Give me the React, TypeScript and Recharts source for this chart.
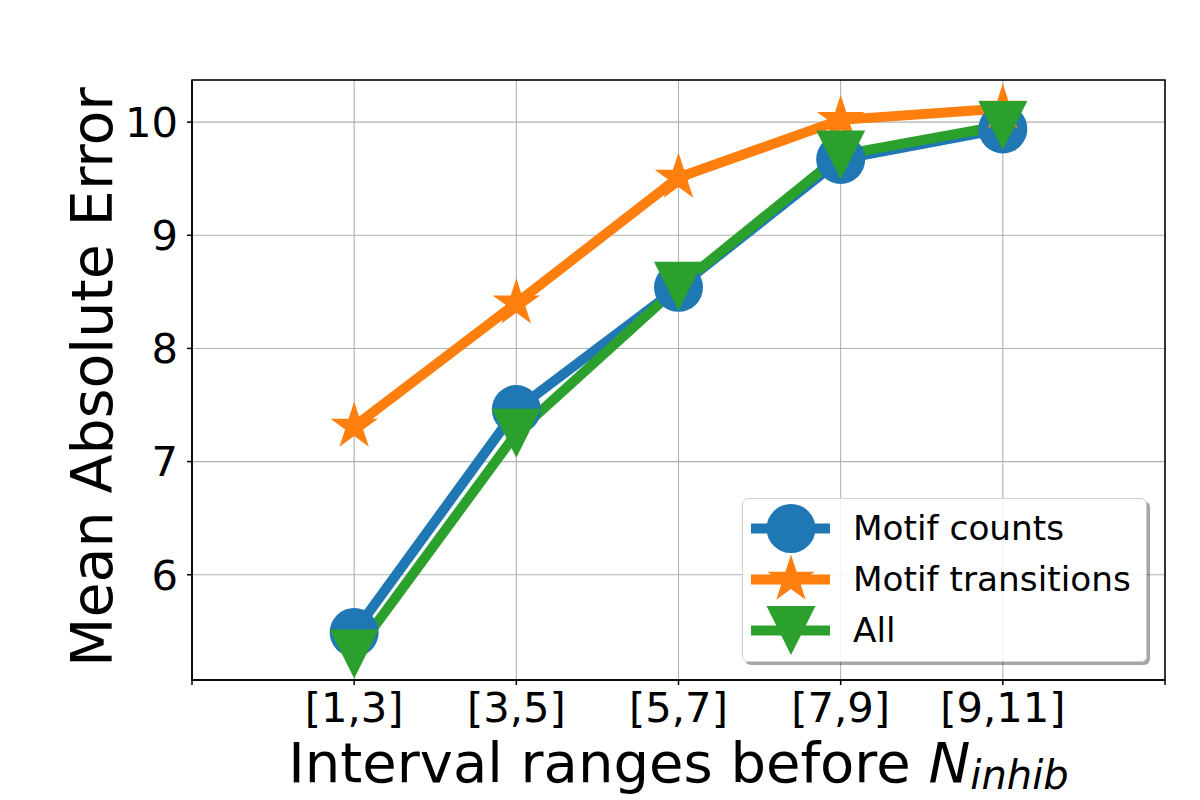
import React from "react";
import {
  CartesianGrid,
  Legend,
  Line,
  LineChart,
  ReferenceArea,
  XAxis,
  YAxis,
} from "recharts";

const categories = ["[1,3]", "[3,5]", "[5,7]", "[7,9]", "[9,11]"];
const motifCounts = [5.49, 7.46, 8.54, 9.67, 9.94];
const motifTransitions = [7.31, 8.4, 9.51, 10.02, 10.12];
const allFeatures = [5.3, 7.25, 8.55, 9.71, 9.97];
const xTicks = [0, 1, 2, 3, 4, 5, 6];
const yTicks = [6, 7, 8, 9, 10];
const yDomain = [5.07, 10.372];
const seriesOrder = ["counts", "transitions", "all"];

const data = categories.map((c, i) => ({
  x: i + 1,
  label: c,
  counts: motifCounts[i],
  transitions: motifTransitions[i],
  all: allFeatures[i],
}));

const BLUE = "#1f77b4";
const ORANGE = "#ff7f0e";
const GREEN = "#2ca02c";
const FONT = "'DejaVu Sans', sans-serif";
const R = 24.5;

function starPoints(cx: number, cy: number, r: number) {
  const inner = r * 0.381966;
  const pts: string[] = [];
  for (let i = 0; i < 10; i++) {
    const rad = i % 2 === 0 ? r : inner;
    const a = -Math.PI / 2 + (i * Math.PI) / 5;
    pts.push(`${cx + rad * Math.cos(a)},${cy + rad * Math.sin(a)}`);
  }
  return pts.join(" ");
}

function Marker({ kind, cx, cy, color, r = R }: any) {
  if (kind === "circle") return <circle cx={cx} cy={cy} r={r} fill={color} />;
  if (kind === "star")
    return <polygon points={starPoints(cx, cy, r * 1.02)} fill={color} />;
  return (
    <polygon
      points={`${cx - r},${cy - r} ${cx + r},${cy - r} ${cx},${cy + r}`}
      fill={color}
    />
  );
}

const markerOf: Record<string, string> = {
  counts: "circle",
  transitions: "star",
  all: "triangle",
};

const makeDot = (kind: string, color: string) => (props: any) => {
  const { cx, cy, index } = props;
  return (
    <g key={`${kind}-${index}`}>
      <Marker kind={kind} cx={cx} cy={cy} color={color} />
    </g>
  );
};

function LegendBox(props: any) {
  const payload = [...(props.payload || [])].sort(
    (a: any, b: any) => seriesOrder.indexOf(a.dataKey) - seriesOrder.indexOf(b.dataKey)
  );
  return (
    <div
      style={{
        width: 405,
        height: 164,
        background: "rgba(255,255,255,0.85)",
        border: "1px solid #d0d0d0",
        borderRadius: 6,
        boxShadow: "3px 3px 0 rgba(0,0,0,0.35)",
        paddingTop: 4,
        boxSizing: "border-box",
        fontFamily: FONT,
        fontSize: 34.3,
        color: "#000",
      }}
    >
      {payload.map((p: any) => (
        <div
          key={p.value}
          style={{ display: "flex", alignItems: "center", height: 51 }}
        >
          <svg width={110} height={51} style={{ flex: "none" }}>
            <line x1={8} x2={87} y1={25.5} y2={25.5} stroke={p.color} strokeWidth={10} />
            <Marker kind={markerOf[p.dataKey]} cx={48} cy={25.5} color={p.color} />
          </svg>
          <span style={{ lineHeight: "51px", whiteSpace: "nowrap" }}>{p.value}</span>
        </div>
      ))}
    </div>
  );
}

const tickStyle = { fontFamily: FONT, fontSize: 41.7, fill: "#000" };

export default function App() {
  return (
    <div style={{ position: "absolute", left: 0, top: 0, background: "#fff" }}>
      <LineChart
        width={1200}
        height={800}
        data={data}
        margin={{ top: 80, right: 35, bottom: 0, left: 0 }}
      >
        <CartesianGrid stroke="#b0b0b0" strokeWidth={1.1} />
        <XAxis
          dataKey="x"
          type="number"
          domain={[0, 6]}
          ticks={xTicks}
          interval={0}
          height={120}
          tickFormatter={(v: number) => categories[v - 1] ?? ""}
          tick={tickStyle}
          tickSize={5}
          tickMargin={7}
          axisLine={{ stroke: "#000", strokeWidth: 1.5 }}
          tickLine={{ stroke: "#000", strokeWidth: 1.5 }}
          label={(p: any) => {
            const vb = p.viewBox || { x: 192, y: 680, width: 973 };
            return (
              <text
                x={vb.x + vb.width / 2}
                y={782}
                textAnchor="middle"
                style={{ fontFamily: FONT, fontSize: 56, fill: "#000" }}
              >
                Interval ranges before{" "}
                <tspan fontStyle="italic">N</tspan>
                <tspan fontStyle="italic" fontSize={40} dy={7}>
                  inhib
                </tspan>
              </text>
            );
          }}
        />
        <YAxis
          type="number"
          domain={yDomain}
          ticks={yTicks}
          allowDataOverflow
          width={192}
          tick={tickStyle}
          tickSize={5}
          tickMargin={9}
          axisLine={{ stroke: "#000", strokeWidth: 1.5 }}
          tickLine={{ stroke: "#000", strokeWidth: 1.5 }}
          label={(p: any) => {
            const vb = p.viewBox || { x: 0, y: 80, width: 192, height: 600 };
            const cy = vb.y + vb.height / 2 - 3;
            return (
              <text
                x={112}
                y={cy}
                textAnchor="middle"
                transform={`rotate(-90, 112, ${cy})`}
                style={{ fontFamily: FONT, fontSize: 57, fill: "#000" }}
              >
                Mean Absolute Error
              </text>
            );
          }}
        />
        <ReferenceArea
          x1={0}
          x2={6}
          y1={yDomain[0]}
          y2={yDomain[1]}
          fill="none"
          stroke="#000"
          strokeWidth={1.5}
          ifOverflow="visible"
        />
        <Line
          dataKey="counts"
          name="Motif counts"
          type="linear"
          stroke={BLUE}
          strokeWidth={10}
          dot={makeDot("circle", BLUE)}
          activeDot={false}
          isAnimationActive={false}
        />
        <Line
          dataKey="transitions"
          name="Motif transitions"
          type="linear"
          stroke={ORANGE}
          strokeWidth={10}
          dot={makeDot("star", ORANGE)}
          activeDot={false}
          isAnimationActive={false}
        />
        <Line
          dataKey="all"
          name="All"
          type="linear"
          stroke={GREEN}
          strokeWidth={10}
          dot={makeDot("triangle", GREEN)}
          activeDot={false}
          isAnimationActive={false}
        />
        <Legend
          layout="horizontal"
          align="center"
          verticalAlign="middle"
          content={<LegendBox />}
          wrapperStyle={{ position: "absolute", left: 742, top: 498, width: 408, height: 168 }}
        />
      </LineChart>
    </div>
  );
}
